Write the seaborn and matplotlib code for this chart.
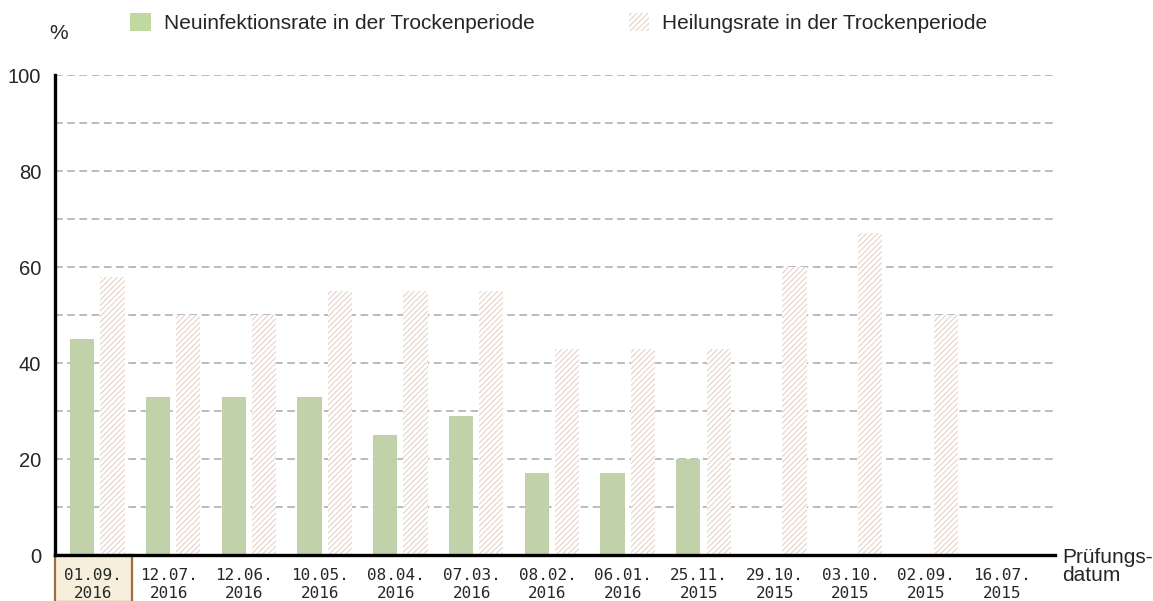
import numpy as np
import pandas as pd
import seaborn as sns
import matplotlib.pyplot as plt
from matplotlib.patches import Patch, Rectangle
import matplotlib.transforms as mtransforms

# chart data
dates = ["01.09.\n2016", "12.07.\n2016", "12.06.\n2016", "10.05.\n2016",
         "08.04.\n2016", "07.03.\n2016", "08.02.\n2016", "06.01.\n2016",
         "25.11.\n2015", "29.10.\n2015", "03.10.\n2015", "02.09.\n2015",
         "16.07.\n2015"]
neuinfektion = [45, 33, 33, 33, 25, 29, 17, 17, 20, np.nan, np.nan, np.nan, np.nan]
heilung = [58, 50, 50, 55, 55, 55, 43, 43, 43, 60, 67, 50, np.nan]
series = ["Neuinfektionsrate in der Trockenperiode", "Heilungsrate in der Trockenperiode"]

df = pd.DataFrame({
    "Datum": dates * 2,
    "Wert": neuinfektion + heilung,
    "Serie": [series[0]] * len(dates) + [series[1]] * len(dates),
})

green = "#c2d8a3"
hatch_col = "#e6d3c8"

sns.set_style("white")
plt.rcParams["font.family"] = ["Liberation Sans", "DejaVu Sans"]
plt.rcParams["hatch.linewidth"] = 0.8

fig = plt.figure(figsize=(11.53, 6.01), dpi=100)
ax = fig.add_axes([0.0477, 0.0765, 0.8673, 0.7985])

sns.barplot(data=df, x="Datum", y="Wert", hue="Serie", order=dates,
            hue_order=series, palette=[green, "white"], width=0.8, gap=0.2,
            legend=False, ax=ax, zorder=3)

# hatched second series
for bar in ax.containers[1]:
    bar.set_facecolor("white")
    bar.set_edgecolor(hatch_col)
    bar.set_hatch("//////")
    bar.set_linewidth(0)
for bar in ax.containers[0]:
    bar.set_linewidth(0)

n = len(dates)
ax.set_xlim(-0.56, 12.64)
ax.set_ylim(0, 100)
ax.set_xticks(np.arange(n) - 0.06)
ax.set_xticklabels(dates, family="DejaVu Sans Mono", fontsize=11.5, linespacing=1.25)
ax.set_yticks(range(0, 101, 20))
ax.set_yticks(range(0, 101, 10), minor=True)
ax.tick_params(axis="y", which="both", direction="out", length=4, width=1.8,
               labelsize=14.5, pad=6, color="black")
ax.tick_params(axis="x", length=0, pad=9)
ax.set_xlabel("")
ax.set_ylabel("")

ax.yaxis.grid(True, which="both", linestyle=(0, (5, 3)), color="#a8a8a8", linewidth=1.1)
ax.set_axisbelow(True)

for s in ["top", "right"]:
    ax.spines[s].set_visible(False)
for s in ["left", "bottom"]:
    ax.spines[s].set_linewidth(2.4)
    ax.spines[s].set_color("black")
    ax.spines[s].set_zorder(5)

# highlight box around the first date
trans = mtransforms.blended_transform_factory(ax.transData, ax.transAxes)
ax.add_patch(Rectangle((-0.56, -0.097), 1.02, 0.097, transform=trans,
                       facecolor="#f6efdc", edgecolor="#a36a3c", linewidth=1.6,
                       clip_on=False, zorder=0))

ax.text(-0.006, 1.0875, "%", transform=ax.transAxes, fontsize=15, ha="left", va="center")
fig.text(0.921, 0.058, "Prüfungs-\ndatum", fontsize=15, ha="left", va="center",
         linespacing=0.92)

handles = [Patch(facecolor=green, edgecolor="none"),
           Patch(facecolor="white", edgecolor=hatch_col, hatch="//////", linewidth=0)]
fig.legend(handles, series, loc="center left", bbox_to_anchor=(0.113, 0.962),
           ncol=2, frameon=False, fontsize=15, handlelength=1.0, handleheight=1.0,
           handletextpad=0.62, columnspacing=4.5, borderpad=0, borderaxespad=0)

fig.savefig("out.png", dpi=100)
